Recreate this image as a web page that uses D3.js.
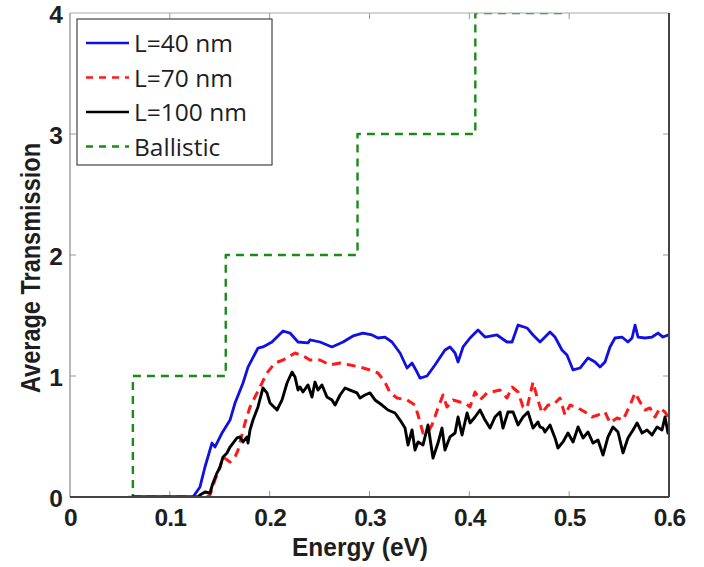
<!DOCTYPE html>
<html><head><meta charset="utf-8">
<script src="https://cdn.jsdelivr.net/npm/d3@7"></script>
<style>
body{margin:0;background:#fff;}
svg{display:block;}
</style></head>
<body>
<svg id="chart" width="704" height="567"></svg>
<script>
const xTicks = [0, 0.1, 0.2, 0.3, 0.4, 0.5, 0.6];
const yTicks = [0, 1, 2, 3, 4];
const seriesNames = ["L=40 nm", "L=70 nm", "L=100 nm", "Ballistic"];

const ballisticE = [0.058, 0.063, 0.063, 0.156, 0.156, 0.288, 0.288, 0.406, 0.406, 0.498, 0.498, 0.6];
const ballisticT = [0, 0, 1, 1, 2, 2, 3, 3, 4, 4, 5, 5];

const blueE = [0.062,0.1232,0.1302,0.1352,0.1422,0.1452,0.1523,0.1603,0.1653,0.1733,0.1783,0.1883,0.1933,0.2023,0.2134,0.2204,0.2284,0.2384,0.2404,0.2504,0.2624,0.2735,0.2835,0.2935,0.3025,0.3085,0.3155,0.3225,0.3306,0.3376,0.3426,0.3476,0.3506,0.3576,0.3656,0.3756,0.3806,0.3857,0.3887,0.3937,0.4007,0.4087,0.4157,0.4277,0.4377,0.4428,0.4488,0.4578,0.4638,0.4708,0.4808,0.4858,0.4928,0.4978,0.5039,0.5109,0.5189,0.5259,0.5309,0.5359,0.5409,0.5459,0.5529,0.5589,0.5630,0.5660,0.5690,0.5760,0.5830,0.5890,0.5940,0.5990,0.6];
const blueT = [0,0,0.083,0.248,0.446,0.413,0.529,0.636,0.777,0.942,1.074,1.231,1.240,1.281,1.372,1.355,1.281,1.273,1.298,1.281,1.240,1.281,1.331,1.355,1.339,1.314,1.322,1.281,1.190,1.066,1.107,1.033,0.983,1.0,1.091,1.215,1.240,1.190,1.116,1.240,1.314,1.380,1.322,1.339,1.281,1.281,1.421,1.397,1.339,1.281,1.364,1.322,1.215,1.174,1.050,1.066,1.149,1.116,1.074,1.116,1.240,1.314,1.322,1.281,1.314,1.421,1.322,1.314,1.322,1.355,1.322,1.339,1.33];

const redE = [0.062,0.1372,0.1402,0.1452,0.1503,0.1533,0.1603,0.1653,0.1683,0.1753,0.1803,0.1903,0.1973,0.2053,0.2134,0.2254,0.2354,0.2404,0.2504,0.2604,0.2705,0.2805,0.2905,0.3005,0.3085,0.3155,0.3206,0.3276,0.3376,0.3456,0.3486,0.3536,0.3586,0.3626,0.3686,0.3736,0.3776,0.3837,0.3907,0.3957,0.4007,0.4057,0.4107,0.4177,0.4227,0.4307,0.4377,0.4428,0.4488,0.4538,0.4578,0.4638,0.4678,0.4728,0.4788,0.4838,0.4908,0.4958,0.5009,0.5089,0.5159,0.5229,0.5289,0.5359,0.5409,0.5479,0.5539,0.5610,0.5660,0.5710,0.5760,0.5810,0.5860,0.5910,0.5960,0.5990,0.6];
const redT = [0,0,0.017,0.140,0.248,0.331,0.289,0.331,0.388,0.612,0.744,0.909,1.025,1.107,1.132,1.190,1.157,1.132,1.132,1.091,1.107,1.091,1.074,1.050,1.025,0.950,0.860,0.818,0.802,0.760,0.678,0.529,0.537,0.595,0.736,0.843,0.744,0.802,0.785,0.777,0.744,0.868,0.802,0.860,0.868,0.884,0.818,0.909,0.868,0.744,0.736,0.950,0.826,0.694,0.760,0.760,0.818,0.678,0.760,0.736,0.702,0.661,0.678,0.702,0.612,0.653,0.636,0.760,0.860,0.785,0.719,0.736,0.661,0.736,0.702,0.661,0.62];

const blackE = [0.062,0.1282,0.1302,0.1352,0.1402,0.1432,0.1472,0.1503,0.1533,0.1573,0.1603,0.1633,0.1673,0.1703,0.1733,0.1773,0.1783,0.1803,0.1833,0.1883,0.1933,0.1973,0.2003,0.2074,0.2124,0.2174,0.2224,0.2254,0.2284,0.2304,0.2334,0.2384,0.2424,0.2454,0.2484,0.2524,0.2574,0.2624,0.2655,0.2705,0.2755,0.2805,0.2875,0.2905,0.2955,0.3005,0.3055,0.3125,0.3185,0.3256,0.3306,0.3356,0.3386,0.3426,0.3456,0.3486,0.3536,0.3586,0.3636,0.3686,0.3726,0.3756,0.3806,0.3857,0.3887,0.3927,0.3977,0.4007,0.4057,0.4107,0.4157,0.4207,0.4257,0.4307,0.4337,0.4387,0.4438,0.4488,0.4538,0.4588,0.4638,0.4688,0.4708,0.4738,0.4758,0.4808,0.4858,0.4888,0.4938,0.4988,0.5039,0.5089,0.5139,0.5189,0.5239,0.5289,0.5339,0.5389,0.5439,0.5489,0.5539,0.5589,0.5640,0.5680,0.5730,0.5780,0.5830,0.5880,0.5930,0.5960,0.5990,0.6];
const blackT = [0,0,0.017,0.041,0.033,0.116,0.198,0.248,0.331,0.364,0.413,0.446,0.488,0.496,0.455,0.496,0.446,0.554,0.636,0.744,0.901,0.860,0.777,0.719,0.802,0.942,1.033,0.992,0.884,0.909,0.868,0.926,0.826,0.950,0.884,0.926,0.826,0.802,0.760,0.843,0.901,0.884,0.860,0.818,0.843,0.860,0.802,0.760,0.719,0.694,0.636,0.570,0.430,0.554,0.388,0.455,0.430,0.595,0.322,0.446,0.570,0.388,0.496,0.529,0.661,0.512,0.694,0.612,0.661,0.719,0.636,0.570,0.661,0.702,0.570,0.702,0.702,0.595,0.661,0.702,0.570,0.620,0.579,0.570,0.537,0.595,0.488,0.405,0.455,0.529,0.455,0.579,0.488,0.537,0.446,0.471,0.347,0.496,0.579,0.537,0.364,0.488,0.554,0.612,0.529,0.554,0.512,0.579,0.554,0.661,0.529,0.55];

const W = 704, H = 567;
const m = {left: 70, right: 35, top: 13, bottom: 70};
const svg = d3.select("#chart");
const x = d3.scaleLinear().domain([0, 0.6]).range([m.left, W - m.right]);
const y = d3.scaleLinear().domain([0, 4]).range([H - m.bottom, m.top]);
const font = "'Open Sans', 'DejaVu Sans', sans-serif";
const boldFont = "'Liberation Sans', Arial, sans-serif";
const textCol = "#1e1e1e";

svg.append("defs").append("clipPath").attr("id", "clip")
  .append("rect").attr("x", m.left).attr("y", m.top)
  .attr("width", x(0.6) - m.left).attr("height", y(0) - m.top);

// inner ticks (box style)
const tk = svg.append("g").attr("stroke", "#999").attr("stroke-width", 1);
xTicks.slice(1, -1).forEach(v => {
  tk.append("line").attr("x1", x(v)).attr("x2", x(v)).attr("y1", y(0)).attr("y2", y(0) - 6);
  tk.append("line").attr("x1", x(v)).attr("x2", x(v)).attr("y1", y(4)).attr("y2", y(4) + 6);
});
yTicks.slice(1, -1).forEach(v => {
  tk.append("line").attr("x1", x(0)).attr("x2", x(0) + 6).attr("y1", y(v)).attr("y2", y(v));
  tk.append("line").attr("x1", x(0.6)).attr("x2", x(0.6) - 6).attr("y1", y(v)).attr("y2", y(v));
});

const plot = svg.append("g").attr("clip-path", "url(#clip)");
const line = d3.line().x(d => x(d[0])).y(d => y(d[1]));
const zip = (a, b) => a.map((v, i) => [v, b[i]]);

const series = [
  {name: seriesNames[3], data: zip(ballisticE, ballisticT), color: "#1a8a1a", w: 2.4, dash: "8,6"},
  {name: seriesNames[1], data: zip(redE, redT), color: "#ff1a1a", w: 3, dash: "9,6"},
  {name: seriesNames[2], data: zip(blackE, blackT), color: "#000", w: 2.9, dash: null},
  {name: seriesNames[0], data: zip(blueE, blueT), color: "#1010e0", w: 2.8, dash: null}
];
series.forEach(s => {
  plot.append("path").datum(s.data).attr("d", line)
    .attr("fill", "none").attr("stroke", s.color).attr("stroke-width", s.w)
    .attr("stroke-linejoin", "round")
    .attr("stroke-dasharray", s.dash);
});

// frame
svg.append("line").attr("x1", x(0)).attr("x2", x(0.6)).attr("y1", y(4)).attr("y2", y(4)).attr("stroke", "#aaa").attr("stroke-width", 1);
svg.append("line").attr("x1", x(0)).attr("x2", x(0)).attr("y1", y(4)).attr("y2", y(0)).attr("stroke", "#888").attr("stroke-width", 1.2);
svg.append("line").attr("x1", x(0)).attr("x2", x(0.6)).attr("y1", y(0)).attr("y2", y(0)).attr("stroke", "#444").attr("stroke-width", 2);
svg.append("line").attr("x1", x(0.6)).attr("x2", x(0.6)).attr("y1", y(4)).attr("y2", y(0)).attr("stroke", "#444").attr("stroke-width", 2);

// axes labels via d3 axes
const xAxis = d3.axisBottom(x).tickValues(xTicks).tickFormat(d => d === 0 ? "0" : d3.format(".1f")(d)).tickSize(0).tickPadding(12);
const gx = svg.append("g").attr("transform", `translate(0,${y(0)})`).call(xAxis);
gx.select(".domain").remove();
gx.selectAll("text").attr("font-family", boldFont).attr("font-weight", "bold").attr("font-size", 24.5).attr("fill", textCol).attr("letter-spacing", -0.8);

const yAxis = d3.axisLeft(y).tickValues(yTicks).tickFormat(d3.format("d")).tickSize(0).tickPadding(7);
const gy = svg.append("g").attr("transform", `translate(${x(0)},0)`).call(yAxis);
gy.select(".domain").remove();
gy.selectAll("text").attr("font-family", boldFont).attr("font-weight", "bold").attr("font-size", 24.5).attr("fill", textCol).attr("dy", "0.4em");

svg.append("text").attr("x", 360).attr("y", 556).attr("text-anchor", "middle")
  .attr("font-family", boldFont).attr("font-weight", "bold").attr("font-size", 25).attr("fill", textCol)
  .attr("textLength", 136).attr("lengthAdjust", "spacingAndGlyphs").text("Energy (eV)");
svg.append("text").attr("transform", "translate(40,268) rotate(-90)").attr("text-anchor", "middle")
  .attr("font-family", boldFont).attr("font-weight", "bold").attr("font-size", 27).attr("fill", textCol)
  .attr("textLength", 250).attr("lengthAdjust", "spacingAndGlyphs").text("Average Transmission");

// legend
const lg = svg.append("g");
lg.append("rect").attr("x", 77).attr("y", 19).attr("width", 195).attr("height", 146)
  .attr("fill", "#fff").attr("stroke", "#444").attr("stroke-width", 1.2);
const legSeries = seriesNames.map(n => series.find(s => s.name === n));
legSeries.forEach((s, i) => {
  const yy = 43 + i * 34.5;
  lg.append("line").attr("x1", 86).attr("x2", 129).attr("y1", yy).attr("y2", yy)
    .attr("stroke", s.color).attr("stroke-width", Math.min(s.w, 2.6)).attr("stroke-dasharray", s.dash ? "7,6" : null);
  lg.append("text").attr("x", 134).attr("y", yy + 9).attr("font-family", font)
    .attr("font-size", 24.5).attr("fill", textCol).text(s.name);
});
</script>
</body></html>
